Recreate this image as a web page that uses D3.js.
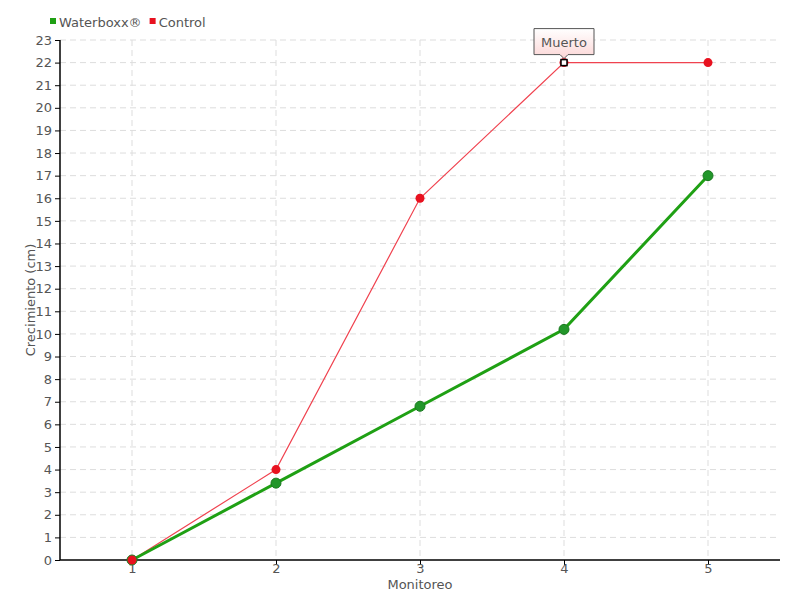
<!DOCTYPE html>
<html><head><meta charset="utf-8">
<script src="https://cdn.jsdelivr.net/npm/d3@7"></script>
<style>
body{margin:0;background:#fff;}
text{font-family:"DejaVu Sans",sans-serif;fill:#555;}
</style></head><body>
<svg id="c" width="800" height="600"></svg>
<script>
const categories = [1, 2, 3, 4, 5];
const waterboxx = [0, 3.4, 6.8, 10.2, 17];
const control = [0, 4, 16, 22, 22];
const yTicks = d3.range(0, 24);
const seriesNames = ["Waterboxx®", "Control"];
const seriesColors = ["#1fa014", "#e8111f"];
const annotation = {index: 3, label: "Muerto"};

const svg = d3.select("#c");
const m = {l: 60, r: 20, t: 40, b: 40};
const W = 800, H = 600;
const x = d3.scaleLinear().domain([0.5, 5.5]).range([m.l, W - m.r]);
const y = d3.scaleLinear().domain([0, 23]).range([H - m.b, m.t]);

// grid
svg.append("g").selectAll("line").data(yTicks.slice(1)).join("line")
  .attr("x1", m.l).attr("x2", W - m.r).attr("y1", d => y(d)).attr("y2", d => y(d))
  .attr("stroke", "#ddd").attr("stroke-dasharray", "6,4");
svg.append("g").selectAll("line").data(categories).join("line")
  .attr("x1", d => x(d)).attr("x2", d => x(d)).attr("y1", m.t).attr("y2", H - m.b)
  .attr("stroke", "#ddd").attr("stroke-dasharray", "6,4");

// axes
const ya = svg.append("g").attr("transform", `translate(${m.l},0)`)
  .call(d3.axisLeft(y).tickValues(yTicks).tickSize(5).tickPadding(3));
const xa = svg.append("g").attr("transform", `translate(0,${H - m.b})`)
  .call(d3.axisBottom(x).tickValues(categories).tickSize(5).tickFormat(d3.format("d")));
[ya, xa].forEach(g => {
  g.selectAll("path.domain").attr("stroke", "#000").attr("stroke-width", 1.5);
  g.selectAll(".tick line").attr("stroke", "#000");
  g.selectAll("text").style("font-size", "13px").attr("fill", "#555");
});
xa.selectAll(".tick text").attr("y", 4);
ya.select("path.domain").attr("d", `M0,${m.t}V${H - m.b}`);
xa.select("path.domain").attr("d", `M${m.l},0H${W - m.r}`);

// axis titles
svg.append("text").attr("x", x(3)).attr("y", 589).attr("text-anchor", "middle")
  .style("font-size", "13px").text("Monitoreo");
svg.append("text").attr("transform", `translate(35,${y(11.5)}) rotate(-90)`)
  .attr("text-anchor", "middle").style("font-size", "13px").text("Crecimiento (cm)");

const line = d3.line().x((d, i) => x(categories[i])).y(d => y(d));
const pts = arr => arr.map((v, i) => ({c: categories[i], v, i}));

// control
svg.append("path").datum(control).attr("d", line).attr("fill", "none")
  .attr("stroke", "#f0424f").attr("stroke-width", 1.2);
// waterboxx
svg.append("path").datum(waterboxx).attr("d", line).attr("fill", "none")
  .attr("stroke", "#1fa014").attr("stroke-width", 3);
svg.append("g").selectAll("circle").data(pts(waterboxx)).join("circle")
  .attr("cx", d => x(d.c)).attr("cy", d => y(d.v)).attr("r", 5)
  .attr("fill", "#22962a").attr("stroke", "#1a7a20").attr("stroke-width", 1);
svg.append("g").selectAll("circle").data(pts(control).filter(d => d.i !== annotation.index)).join("circle")
  .attr("cx", d => x(d.c)).attr("cy", d => y(d.v)).attr("r", 4.5)
  .attr("fill", "#e8111f");

// annotation marker
const ax = x(categories[annotation.index]), ay = y(control[annotation.index]);
svg.append("circle").attr("cx", ax).attr("cy", ay).attr("r", 4.5).attr("fill", "#e8111f");
svg.append("rect").attr("x", ax - 3).attr("y", ay - 3).attr("width", 6).attr("height", 6)
  .attr("fill", "#fff").attr("stroke", "#000").attr("stroke-width", 1.5);

const defs = svg.append("defs");
const gr = defs.append("linearGradient").attr("id", "tip").attr("x1", 0).attr("y1", 0).attr("x2", 0).attr("y2", 1);
gr.append("stop").attr("offset", 0).attr("stop-color", "#fff");
gr.append("stop").attr("offset", 1).attr("stop-color", "#fcd6d6");
const bw = 60, bh = 26, by = ay - 34;
svg.append("path")
  .attr("d", `M${ax - bw/2},${by} H${ax + bw/2} V${by + bh} H${ax + 4} L${ax},${by + bh + 4} L${ax - 4},${by + bh} H${ax - bw/2} Z`)
  .attr("fill", "url(#tip)").attr("stroke", "#555").attr("stroke-width", 1);
svg.append("text").attr("x", ax).attr("y", by + 18).attr("text-anchor", "middle")
  .style("font-size", "13px").text(annotation.label);

// legend
let lx = 50;
seriesNames.forEach((n, i) => {
  svg.append("rect").attr("x", lx).attr("y", 18).attr("width", 6).attr("height", 6).attr("fill", seriesColors[i]);
  const t = svg.append("text").attr("x", lx + 9).attr("y", 27).style("font-size", "13px").text(n);
  lx += 9 + t.node().getComputedTextLength() + 8;
});
</script></body></html>
